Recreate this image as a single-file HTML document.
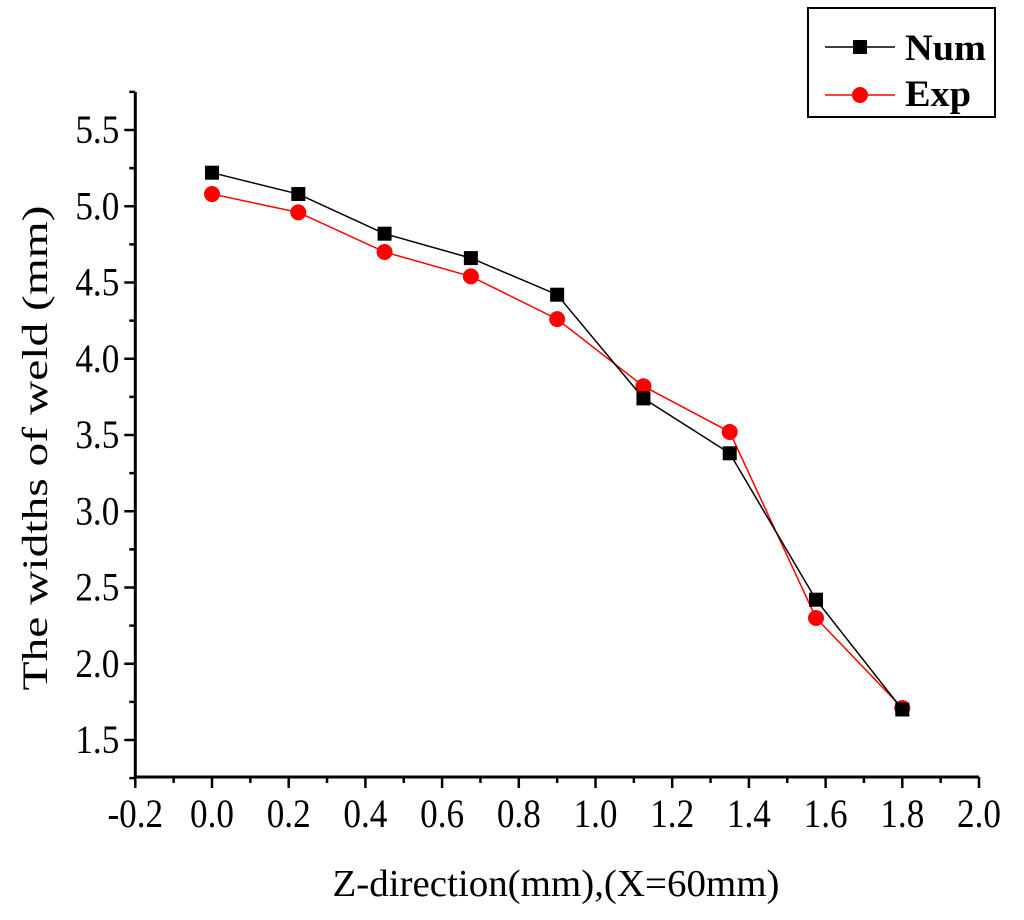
<!DOCTYPE html>
<html><head><meta charset="utf-8"><style>
body{margin:0;background:#fff;}
svg text{font-family:"Liberation Serif",serif;}
</style></head><body>
<svg id="chart" width="1024" height="915" xmlns="http://www.w3.org/2000/svg">
<g id="axes"></g>
<g id="series"></g>
<text x="556" y="896" font-size="38" text-anchor="middle" textLength="447" lengthAdjust="spacingAndGlyphs">Z-direction(mm),(X=60mm)</text>
<text transform="translate(47,448) rotate(-90)" font-size="36" text-anchor="middle" textLength="485" lengthAdjust="spacingAndGlyphs">The widths of weld (mm)</text>
<g>
<rect x="808" y="8" width="187" height="109" fill="#fff" stroke="#000" stroke-width="2"/>
<g>
<line x1="825" y1="47" x2="895" y2="47" stroke="#000" stroke-width="1.5"/>
<rect x="853" y="40" width="14" height="14" fill="#000"/>
<text x="905" y="60" font-size="37" font-weight="bold" textLength="81" lengthAdjust="spacingAndGlyphs">Num</text></g>
<g>
<line x1="825" y1="95" x2="895" y2="95" stroke="#f00" stroke-width="1.5"/>
<circle cx="860" cy="95" r="8" fill="#f00"/>
<text x="905" y="106" font-size="37" font-weight="bold" textLength="66" lengthAdjust="spacingAndGlyphs">Exp</text></g>
</g>
</svg>
<script>
const xValues=[0,0.225,0.45,0.675,0.9,1.125,1.35,1.575,1.8];
const numValues=[5.22,5.08,4.82,4.66,4.42,3.74,3.38,2.42,1.70];
const expValues=[5.08,4.96,4.70,4.54,4.26,3.82,3.52,2.30,1.71];
const xTicks=["-0.2","0.0","0.2","0.4","0.6","0.8","1.0","1.2","1.4","1.6","1.8","2.0"];
const yTicks=["1.5","2.0","2.5","3.0","3.5","4.0","4.5","5.0","5.5"];
const NS="http://www.w3.org/2000/svg";
const X=v=>212+(v)*383.5;
const Y=v=>130+(5.5-v)*152.5;
const ax=document.getElementById('axes'), se=document.getElementById('series');
function mk(p,tag,a){const e=document.createElementNS(NS,tag);for(const k in a)e.setAttribute(k,a[k]);p.appendChild(e);return e;}
const x0=X(-0.2), x1=X(2.0), yb=777, yt=92;
let l=mk(ax,'line',{x1:x0,y1:yb,x2:x1,y2:yb,stroke:'#000','stroke-width':3});


l=mk(ax,'line',{x1:x0,y1:yt,x2:x0,y2:yb,stroke:'#000','stroke-width':3});


xTicks.forEach((t,i)=>{const v=parseFloat(t);const x=X(v);
 mk(ax,'line',{x1:x,y1:yb,x2:x,y2:yb+11,stroke:'#000','stroke-width':2.5});
 if(i<xTicks.length-1)mk(ax,'line',{x1:X(v+0.1),y1:yb,x2:X(v+0.1),y2:yb+6,stroke:'#000','stroke-width':2.5});
 const tx=mk(ax,'text',{transform:'translate('+x+','+(yb+50)+') scale(0.88,1)','font-size':40,'text-anchor':'middle'});tx.textContent=t;
 
 });
yTicks.forEach((t)=>{const v=parseFloat(t);const y=Y(v);
 mk(ax,'line',{x1:x0-11,y1:y,x2:x0,y2:y,stroke:'#000','stroke-width':2.5});
 mk(ax,'line',{x1:x0-6,y1:Y(v+0.25),x2:x0,y2:Y(v+0.25),stroke:'#000','stroke-width':2.5});
 const tx=mk(ax,'text',{transform:'translate('+(x0-16)+','+(y+13)+') scale(0.88,1)','font-size':40,'text-anchor':'end'});tx.textContent=t;
 
 });
mk(ax,'line',{x1:x0-6,y1:Y(1.25),x2:x0,y2:Y(1.25),stroke:'#000','stroke-width':2.5});
function draw(vals,color,name,sq){
 const pl=mk(se,'polyline',{points:xValues.map((x,i)=>X(x)+','+Y(vals[i])).join(' '),fill:'none',stroke:color,'stroke-width':1.5});
 
 
 xValues.forEach((x,i)=>{let m;
  if(sq)m=mk(se,'rect',{x:X(x)-7,y:Y(vals[i])-7,width:14,height:14,fill:color});
  else m=mk(se,'circle',{cx:X(x),cy:Y(vals[i]),r:8,fill:color});
  
  });
}
draw(expValues,'#f00','exp',false);
draw(numValues,'#000','num',true);
</script>
</body></html>
